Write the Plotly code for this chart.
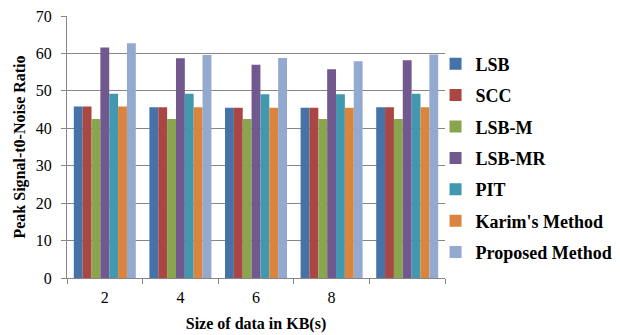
import plotly.graph_objects as go

# Data sizes (KB); the fifth group has no label
categories = ["2", "4", "6", "8", " "]

lsb = [45.8, 45.6, 45.5, 45.5, 45.6]
scc = [45.8, 45.6, 45.5, 45.5, 45.6]
lsb_m = [42.5, 42.5, 42.5, 42.5, 42.5]
lsb_mr = [61.6, 58.7, 57.0, 55.8, 58.2]
pit = [49.2, 49.2, 49.1, 49.1, 49.2]
karim = [45.8, 45.6, 45.5, 45.5, 45.6]
proposed = [62.7, 59.6, 58.8, 57.9, 59.7]

series = [
    ("LSB", lsb, "#4572A7"),
    ("SCC", scc, "#AA4643"),
    ("LSB-M", lsb_m, "#89A54E"),
    ("LSB-MR", lsb_mr, "#71588F"),
    ("PIT", pit, "#4198AF"),
    ("Karim's Method", karim, "#DB843D"),
    ("Proposed Method", proposed, "#93A9CF"),
]

SERIF = "Times New Roman, Liberation Serif, serif"

fig = go.Figure()
for i, (name, vals, color) in enumerate(series):
    fig.add_trace(go.Bar(
        x=categories, y=vals, name=name,
        marker=dict(color=color, line=dict(width=0)),
        legendgroup=f"g{i}",
    ))

fig.update_layout(
    width=620, height=335,
    margin=dict(l=67, r=175, t=16, b=57, autoexpand=False),
    paper_bgcolor="white", plot_bgcolor="white",
    barmode="group", bargap=0.18, bargroupgap=0,
    font=dict(family=SERIF, size=16, color="black"),
    showlegend=True,
    legend=dict(
        x=0.975, y=0.458, xanchor="left", yanchor="middle",
        font=dict(family=SERIF, size=18, color="black", weight="bold"),
        tracegroupgap=5, itemwidth=30,
        bgcolor="rgba(0,0,0,0)",
    ),
    xaxis=dict(
        type="category",
        showline=True, linecolor="#868686", linewidth=1,
        ticks="outside", tickson="boundaries", ticklen=5, tickcolor="#868686",
        showgrid=False,
        tickfont=dict(family=SERIF, size=16),
        ticklabelstandoff=5,
        title=dict(text="<b>Size of data in KB(s)</b>", font=dict(family=SERIF, size=16), standoff=12),
    ),
    yaxis=dict(
        range=[0, 70], dtick=10,
        showline=True, linecolor="#868686", linewidth=1,
        ticks="outside", ticklen=5, tickcolor="#868686",
        showgrid=True, gridcolor="#868686", gridwidth=1,
        zeroline=False,
        tickfont=dict(family=SERIF, size=16),
        ticklabelstandoff=6,
        title=dict(text="<b>Peak Signal-t0-Noise Ratio</b>", font=dict(family=SERIF, size=16), standoff=6),
    ),
)

fig.write_html("out.html")
